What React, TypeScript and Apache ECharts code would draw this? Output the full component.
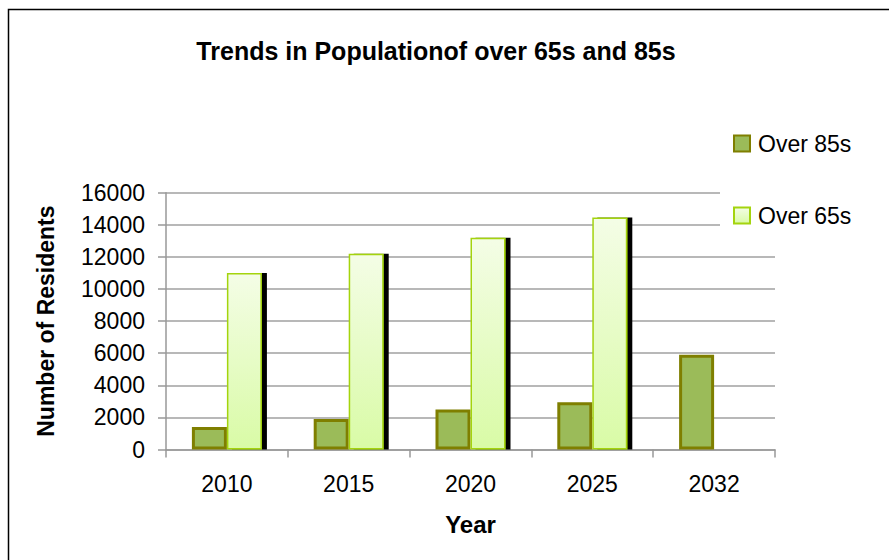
import React, { useEffect, useRef } from "react";
import * as echarts from "echarts";

const years = ["2010", "2015", "2020", "2025", "2032"];
const over85s = [1400, 1900, 2500, 2950, 5900];
const over65s: (number | null)[] = [11000, 12200, 13200, 14450, null];
const yTicks = { min: 0, max: 16000, interval: 2000 };

const FONT = '"Liberation Sans", Arial, sans-serif';

export default function App() {
  const ref = useRef<HTMLDivElement>(null);
  useEffect(() => {
    if (!ref.current) return;
    const chart = echarts.init(ref.current, undefined, { renderer: "svg" });
    chart.setOption({
      animation: false,
      backgroundColor: "#ffffff",
      textStyle: { fontFamily: FONT },
      title: {
        text: "Trends in Populationof over 65s and 85s",
        left: 431,
        top: 33,
        textAlign: "center",
        textStyle: { fontFamily: FONT, fontSize: 25, fontWeight: "bold", color: "#000" },
      },
      graphic: [
        {
          type: "rect",
          shape: { x: 8.5, y: 9.5, width: 1000, height: 1000 },
          style: { fill: "none", stroke: "#000", lineWidth: 1.5 },
          silent: true,
          z: 100,
        },
      ],
      legend: {
        orient: "vertical",
        left: 720,
        top: 120,
        padding: [12, 10, 14, 13],
        backgroundColor: "#ffffff",
        itemWidth: 16,
        itemHeight: 16,
        itemGap: 49,
        icon: "rect",
        textStyle: { fontFamily: FONT, fontSize: 23, color: "#000", padding: [0, 0, 0, 3] },
        data: ["Over 85s", "Over 65s"],
      },
      grid: { left: 166, right: 114, top: 192.7, bottom: 110.5, containLabel: false },
      xAxis: {
        type: "category",
        data: years,
        name: "Year",
        nameLocation: "middle",
        nameGap: 63,
        nameTextStyle: { fontFamily: FONT, fontSize: 24, fontWeight: "bold", color: "#000" },
        axisLine: { lineStyle: { color: "#999", width: 1.5 } },
        axisTick: { show: true, length: 8, lineStyle: { color: "#999", width: 1.5 } },
        axisLabel: { fontFamily: FONT, fontSize: 23, color: "#000", margin: 23 },
      },
      yAxis: {
        type: "value",
        min: yTicks.min,
        max: yTicks.max,
        interval: yTicks.interval,
        name: "Number of Residents",
        nameLocation: "middle",
        nameGap: 109,
        nameTextStyle: { fontFamily: FONT, fontSize: 23, fontWeight: "bold", color: "#000" },
        axisLine: { show: true, lineStyle: { color: "#999", width: 1.5 } },
        axisTick: { show: true, length: 8, lineStyle: { color: "#999", width: 1.5 } },
        axisLabel: {
          fontFamily: FONT,
          fontSize: 23,
          color: "#000",
          margin: 21,
          formatter: (v: number) => String(v),
        },
        splitLine: { show: true, lineStyle: { color: "#a0a0a0", width: 1.5 } },
      },
      series: [
        {
          name: "Over 85s",
          type: "bar",
          data: over85s,
          barWidth: 35,
          barGap: "0%",
          itemStyle: { color: "#9bbb59", borderColor: "#7f7f00", borderWidth: 3 },
        },
        {
          name: "Over 65s",
          type: "bar",
          data: over65s,
          barWidth: 35,
          barGap: "0%",
          itemStyle: {
            color: new echarts.graphic.LinearGradient(0, 0, 0, 1, [
              { offset: 0, color: "#f4fde6" },
              { offset: 1, color: "#d9fba6" },
            ]),
            borderColor: "#a4d40e",
            borderWidth: 1.5,
            shadowColor: "#000000",
            shadowOffsetX: 5,
            shadowOffsetY: 0,
            shadowBlur: 0,
          },
        },
      ],
    });
    return () => chart.dispose();
  }, []);
  return (
    <div
      ref={ref}
      style={{ position: "fixed", left: 0, top: 0, width: 889, height: 560 }}
    />
  );
}
